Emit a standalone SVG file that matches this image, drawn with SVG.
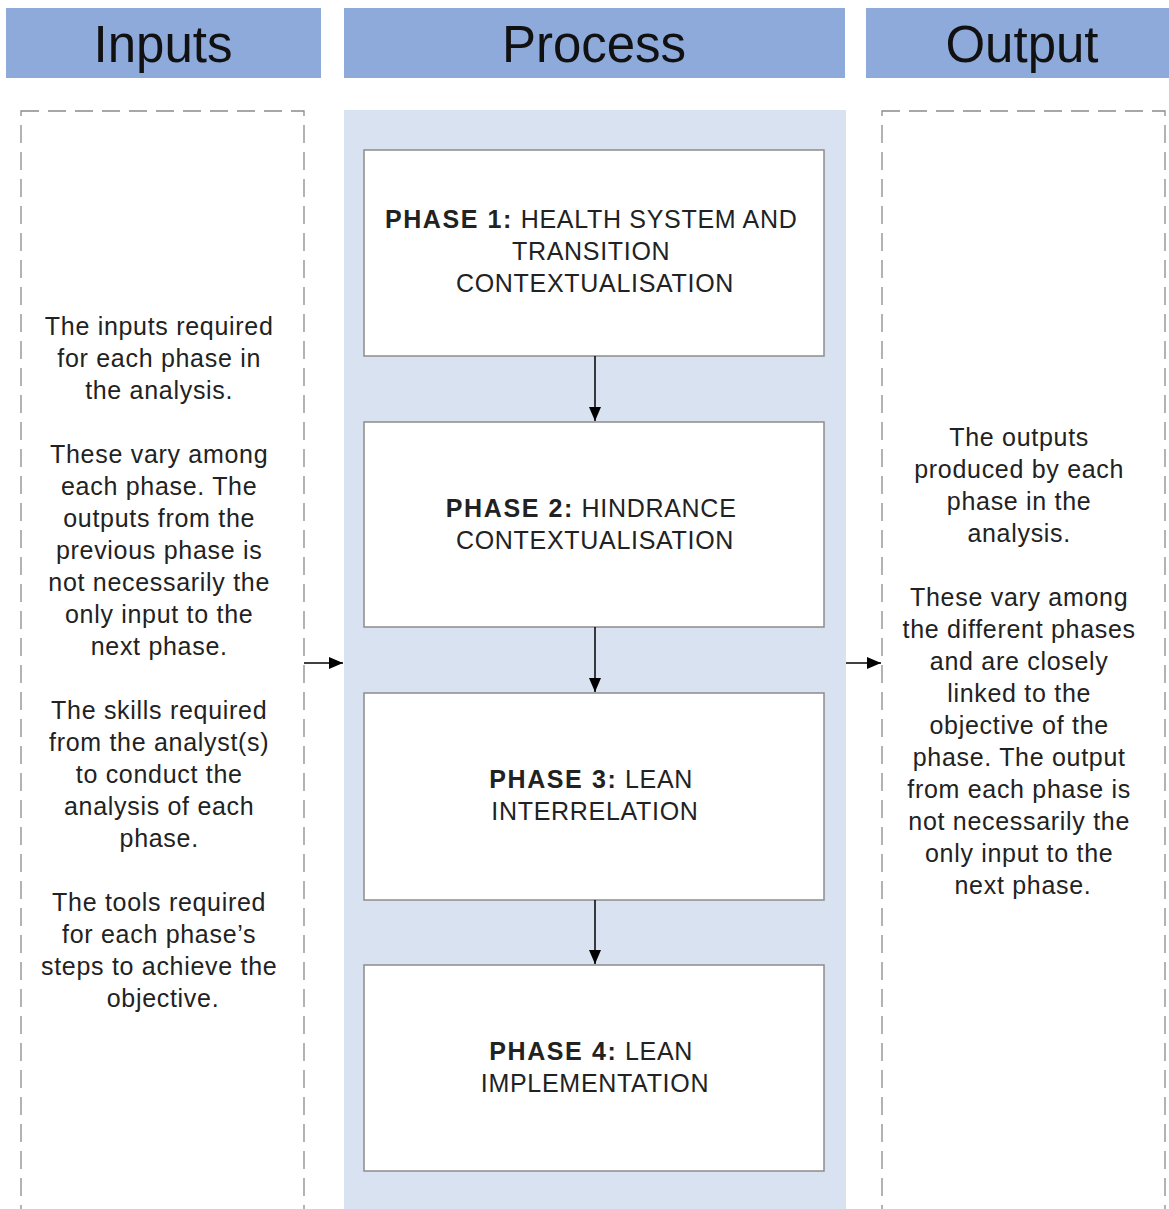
<svg xmlns="http://www.w3.org/2000/svg" width="1169" height="1209" viewBox="0 0 1169 1209">
  <style>
    .hdr { fill: #8eaadb; }
    .hdr-t { font-family: "Liberation Sans", Arial, sans-serif; font-size: 51px; fill: #111; text-anchor: middle; }
    .dash { fill: #fff; stroke: #8a8a8a; stroke-width: 1.3; stroke-dasharray: 18 9; }
    .phase { fill: #fff; stroke: #8c8c8c; stroke-width: 1.5; }
    .txt { font-family: "Liberation Sans", Arial, sans-serif; font-size: 25px; fill: #222; text-anchor: middle; letter-spacing: 0.7px; }
    .b { font-weight: bold; letter-spacing: 1.6px; }
    .conn { stroke: #000; stroke-width: 1.5; fill: none; }
  </style>
  <defs>
    <marker id="arrow" viewBox="0 0 14 12" refX="14" refY="6" markerWidth="14" markerHeight="12" markerUnits="userSpaceOnUse" orient="auto">
      <path d="M0,0 L14,6 L0,12 z" fill="#000"/>
    </marker>
  </defs>
  <rect width="1169" height="1209" fill="#fff"/>

  <!-- column headers -->
  <g id="header-inputs">
    <rect class="hdr" x="6" y="8" width="315" height="70"/>
    <text class="hdr-t" x="163" y="62">Inputs</text>
  </g>
  <g id="header-process">
    <rect class="hdr" x="344" y="8" width="501" height="70"/>
    <text class="hdr-t" x="594" y="62">Process</text>
  </g>
  <g id="header-output">
    <rect class="hdr" x="866" y="8" width="303" height="70"/>
    <text class="hdr-t" x="1022" y="62">Output</text>
  </g>

  <!-- inputs column -->
  <g id="inputs">
    <rect class="dash" x="21" y="111" width="283" height="1110"/>
    <text class="txt">
      <tspan x="163" y="335">The inputs required</tspan>
      <tspan x="163" y="367">for each phase in</tspan>
      <tspan x="163" y="399">the analysis.</tspan>
      <tspan x="163" y="463">These vary among</tspan>
      <tspan x="163" y="495">each phase. The</tspan>
      <tspan x="163" y="527">outputs from the</tspan>
      <tspan x="163" y="559">previous phase is</tspan>
      <tspan x="163" y="591">not necessarily the</tspan>
      <tspan x="163" y="623">only input to the</tspan>
      <tspan x="163" y="655">next phase.</tspan>
      <tspan x="163" y="719">The skills required</tspan>
      <tspan x="163" y="751">from the analyst(s)</tspan>
      <tspan x="163" y="783">to conduct the</tspan>
      <tspan x="163" y="815">analysis of each</tspan>
      <tspan x="163" y="847">phase.</tspan>
      <tspan x="163" y="911">The tools required</tspan>
      <tspan x="163" y="943">for each phase’s</tspan>
      <tspan x="163" y="975">steps to achieve the</tspan>
      <tspan x="163" y="1007">objective.</tspan>
    </text>
  </g>

  <!-- process column background -->
  <rect id="process-bg" x="344" y="110" width="502" height="1110" fill="#d9e2f1"/>

  <g id="phase1">
    <rect class="phase" x="364" y="150" width="460" height="206"/>
    <text class="txt"><tspan x="595" y="228"><tspan class="b">PHASE 1:</tspan> HEALTH SYSTEM AND</tspan>
      <tspan x="595" y="260">TRANSITION</tspan>
      <tspan x="595" y="292">CONTEXTUALISATION</tspan></text>
  </g>
  <g id="phase2">
    <rect class="phase" x="364" y="422" width="460" height="205"/>
    <text class="txt"><tspan x="595" y="517"><tspan class="b">PHASE 2:</tspan> HINDRANCE</tspan>
      <tspan x="595" y="549">CONTEXTUALISATION</tspan></text>
  </g>
  <g id="phase3">
    <rect class="phase" x="364" y="693" width="460" height="207"/>
    <text class="txt"><tspan x="595" y="788"><tspan class="b">PHASE 3:</tspan> LEAN</tspan>
      <tspan x="595" y="820">INTERRELATION</tspan></text>
  </g>
  <g id="phase4">
    <rect class="phase" x="364" y="965" width="460" height="206"/>
    <text class="txt"><tspan x="595" y="1060"><tspan class="b">PHASE 4:</tspan> LEAN</tspan>
      <tspan x="595" y="1092">IMPLEMENTATION</tspan></text>
  </g>

  <!-- output column -->
  <g id="output">
    <rect class="dash" x="882" y="111" width="283" height="1110"/>
    <text class="txt">
      <tspan x="1023" y="446">The outputs</tspan>
      <tspan x="1023" y="478">produced by each</tspan>
      <tspan x="1023" y="510">phase in the</tspan>
      <tspan x="1023" y="542">analysis.</tspan>
      <tspan x="1023" y="606">These vary among</tspan>
      <tspan x="1023" y="638">the different phases</tspan>
      <tspan x="1023" y="670">and are closely</tspan>
      <tspan x="1023" y="702">linked to the</tspan>
      <tspan x="1023" y="734">objective of the</tspan>
      <tspan x="1023" y="766">phase. The output</tspan>
      <tspan x="1023" y="798">from each phase is</tspan>
      <tspan x="1023" y="830">not necessarily the</tspan>
      <tspan x="1023" y="862">only input to the</tspan>
      <tspan x="1023" y="894">next phase.</tspan>
    </text>
  </g>

  <!-- connectors -->
  <g id="connectors">
    <line class="conn" x1="595" y1="356" x2="595" y2="421" marker-end="url(#arrow)"/>
    <line class="conn" x1="595" y1="627" x2="595" y2="692" marker-end="url(#arrow)"/>
    <line class="conn" x1="595" y1="900" x2="595" y2="964" marker-end="url(#arrow)"/>
    <line class="conn" x1="304" y1="663" x2="343" y2="663" marker-end="url(#arrow)"/>
    <line class="conn" x1="846" y1="663" x2="881" y2="663" marker-end="url(#arrow)"/>
  </g>
</svg>
